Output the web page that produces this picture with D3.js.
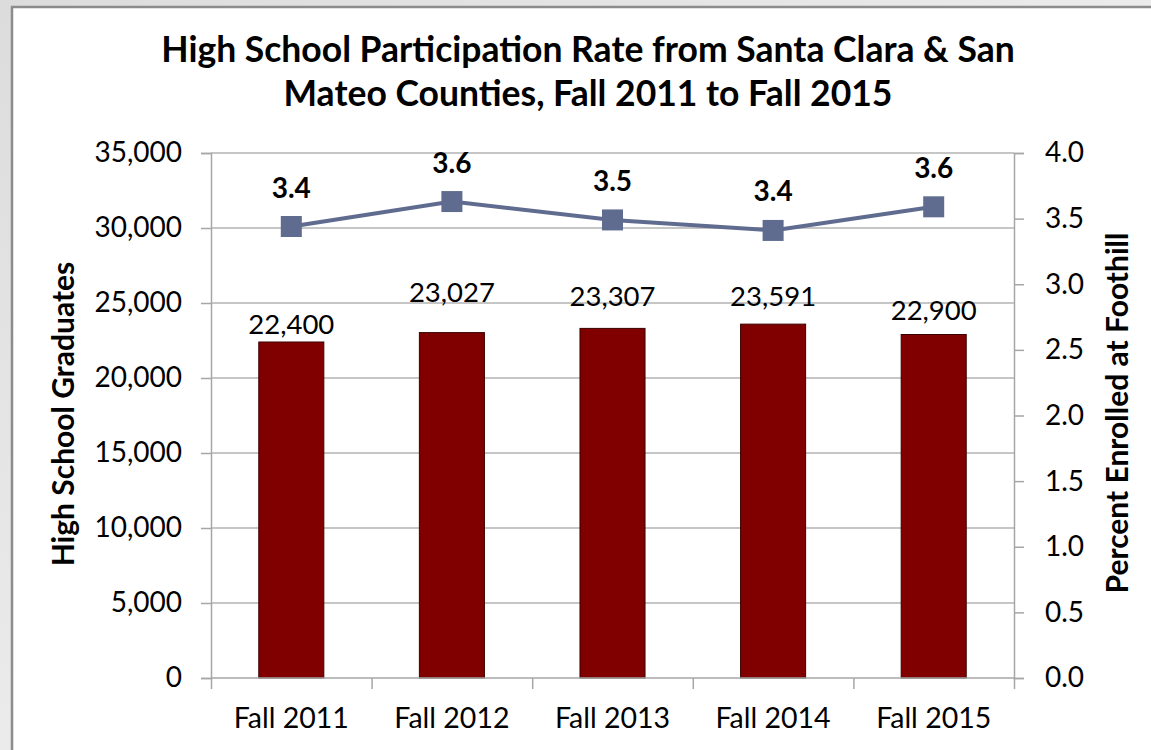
<!DOCTYPE html>
<html>
<head>
<meta charset="utf-8">
<script src="https://cdn.jsdelivr.net/npm/d3@7"></script>
<style>
  html, body { margin: 0; padding: 0; background: #e3e3e3; }
  svg { display: block; }
  text { font-family: Lato, "Open Sans", sans-serif; fill: #000; }
</style>
</head>
<body>
<script>
const categories = ["Fall 2011", "Fall 2012", "Fall 2013", "Fall 2014", "Fall 2015"];
const graduates = [22400, 23027, 23307, 23591, 22900];
const participation = [3.44, 3.63, 3.49, 3.41, 3.59];
const participationLabels = ["3.4", "3.6", "3.5", "3.4", "3.6"];
const leftTicks = [0, 5000, 10000, 15000, 20000, 25000, 30000, 35000];
const rightTicks = [0, 0.5, 1.0, 1.5, 2.0, 2.5, 3.0, 3.5, 4.0];
// label vertical offsets above bar tops (layout, px)
const barLabelGap = [8, 31, 22, 18, 15];

const W = 1151, H = 750;
const m = { left: 211, right: 1014, top: 153, bottom: 678 };

const svg = d3.select("body").append("svg").attr("width", W).attr("height", H);

const defs = svg.append("defs");
const grad = defs.append("linearGradient").attr("id", "bg").attr("x1", 0).attr("y1", 0).attr("x2", 1).attr("y2", 1);
grad.append("stop").attr("offset", "0%").attr("stop-color", "#dcdcdc");
grad.append("stop").attr("offset", "50%").attr("stop-color", "#ebebeb");
grad.append("stop").attr("offset", "100%").attr("stop-color", "#dedede");
svg.append("rect").attr("width", W).attr("height", H).attr("fill", "url(#bg)");

// panel
svg.append("rect").attr("x", 12).attr("y", 7).attr("width", W + 20).attr("height", H + 20)
  .attr("fill", "#fff").attr("stroke", "#8c8c8c").attr("stroke-width", 2.5);

const x = d3.scaleBand().domain(categories).range([m.left, m.right]).paddingInner(0.595).paddingOuter(0.2975);
const yL = d3.scaleLinear().domain([0, 35000]).range([m.bottom, m.top]);
const yR = d3.scaleLinear().domain([0, 4]).range([m.bottom, m.top]);

// gridlines
svg.append("g").selectAll("line").data(leftTicks.filter(d => d > 0)).join("line")
  .attr("x1", m.left).attr("x2", m.right)
  .attr("y1", d => yL(d)).attr("y2", d => yL(d))
  .attr("stroke", "#b3b3b3").attr("stroke-width", 1.5);

// bars
svg.append("g").selectAll("rect").data(graduates).join("rect")
  .attr("x", (d, i) => x(categories[i]))
  .attr("width", x.bandwidth())
  .attr("y", d => yL(d))
  .attr("height", d => yL(0) - yL(d))
  .attr("fill", "#800000")
  .attr("stroke", "#3a0000").attr("stroke-width", 1);

// bar labels
svg.append("g").selectAll("text").data(graduates).join("text")
  .attr("x", (d, i) => x(categories[i]) + x.bandwidth() / 2)
  .attr("y", (d, i) => yL(d) - barLabelGap[i])
  .attr("text-anchor", "middle")
  .attr("font-size", 27.5)
  .text(d => d3.format(",")(d));

// axes
const tickColor = "#a6a6a6";
const axL = svg.append("g").attr("transform", `translate(${m.left},0)`)
  .call(d3.axisLeft(yL).tickValues(leftTicks).tickSize(10).tickPadding(19).tickFormat(d3.format(",")));
const axR = svg.append("g").attr("transform", `translate(${m.right},0)`)
  .call(d3.axisRight(yR).tickValues(rightTicks).tickSize(10).tickPadding(21).tickFormat(d3.format(".1f")));
const xB = d3.scalePoint().domain(d3.range(categories.length + 1)).range([m.left, m.right]);
const axB = svg.append("g").attr("transform", `translate(0,${m.bottom})`)
  .call(d3.axisBottom(xB).tickSize(11).tickFormat(""));
[axL, axR, axB].forEach(g => {
  g.select(".domain").attr("stroke", tickColor).attr("stroke-width", 1.5);
  g.selectAll(".tick line").attr("stroke", tickColor).attr("stroke-width", 1.5);
  g.selectAll("text").attr("font-family", "Lato, sans-serif").attr("font-size", 28).attr("fill", "#000");
});
axB.select(".domain").attr("d", `M${m.left},0H${m.right}`);

// category labels
svg.append("g").selectAll("text").data(categories).join("text")
  .attr("x", d => x(d) + x.bandwidth() / 2)
  .attr("y", 728)
  .attr("text-anchor", "middle")
  .attr("font-size", 28.5)
  .text(d => d);

// line
const lineColor = "#5f6b8f";
const pts = participation.map((v, i) => [x(categories[i]) + x.bandwidth() / 2, yR(v)]);
svg.append("path").datum(pts).attr("d", d3.line())
  .attr("fill", "none").attr("stroke", lineColor).attr("stroke-width", 4);
svg.append("g").selectAll("rect").data(pts).join("rect")
  .attr("x", d => d[0] - 10.5).attr("y", d => d[1] - 10.5)
  .attr("width", 21).attr("height", 21).attr("fill", lineColor);
svg.append("g").selectAll("text").data(pts).join("text")
  .attr("x", d => d[0]).attr("y", d => d[1] - 29)
  .attr("text-anchor", "middle").attr("font-weight", "bold").attr("font-size", 28)
  .text((d, i) => participationLabels[i]);

// title
const title = svg.append("text").attr("text-anchor", "middle").attr("font-weight", "bold").attr("font-size", 35.5);
title.append("tspan").attr("x", 588).attr("y", 62).text("High School Participation Rate from Santa Clara & San");
title.append("tspan").attr("x", 588).attr("y", 106).text("Mateo Counties, Fall 2011 to Fall 2015");

// axis titles
svg.append("text").attr("transform", "translate(74,414) rotate(-90)")
  .attr("text-anchor", "middle").attr("font-weight", "bold").attr("font-size", 30)
  .text("High School Graduates");
svg.append("text").attr("transform", "translate(1128,413) rotate(-90)")
  .attr("text-anchor", "middle").attr("font-weight", "bold").attr("font-size", 30)
  .text("Percent Enrolled at Foothill");
</script>
</body>
</html>
